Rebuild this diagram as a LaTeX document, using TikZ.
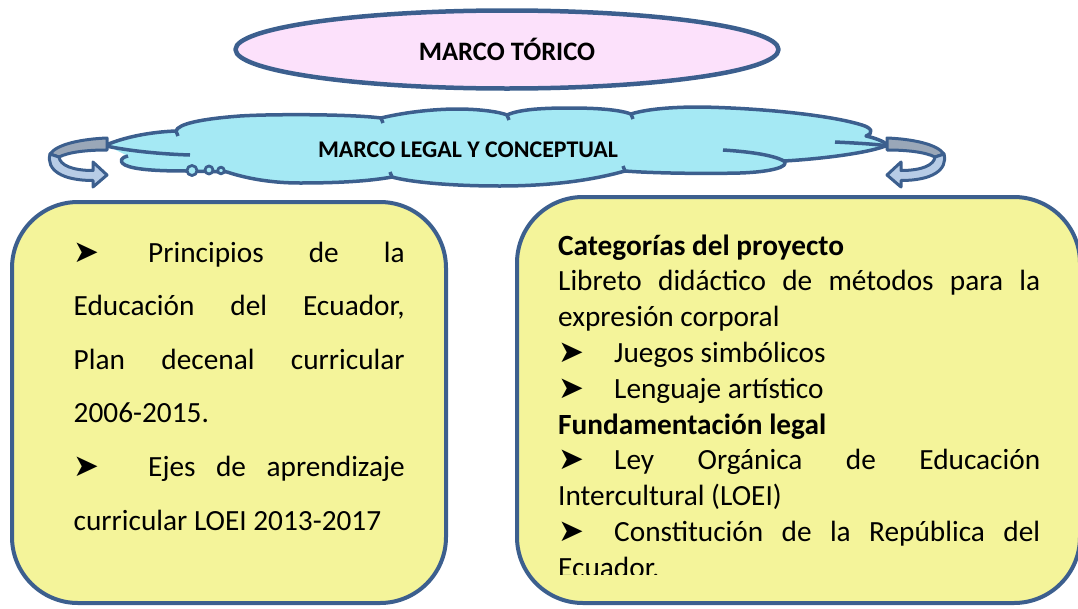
\documentclass[tikz,border=0pt]{standalone}
\usepackage{fontspec}
\setmainfont{Carlito}
\newfontfamily\dingfont{DejaVu Sans}
\usetikzlibrary{shapes.geometric}
\definecolor{rimblue}{RGB}{60,95,142}
\definecolor{pinkfill}{RGB}{252,225,251}
\definecolor{cyanfill}{RGB}{165,233,244}
\definecolor{yellowfill}{RGB}{244,244,154}
\definecolor{bandgrey}{RGB}{154,167,184}
\definecolor{bandblue}{RGB}{183,204,230}
\newcommand{\bul}{{\dingfont\fontsize{31}{31}\selectfont ➤}}
\newcommand{\plainspaces}{\spaceskip=0pt\relax\xspaceskip=0pt\relax}
\tikzset{
  rim/.style={draw=rimblue, line width=3.5pt, line join=round},
  panel/.style={rim, line width=4pt, fill=yellowfill, rounded corners=66pt, inner sep=0pt},
  body/.style={inner sep=0pt, align=left, anchor=base west},
}

\begin{document}
\begin{tikzpicture}[x=1pt, y=-1pt]
        \useasboundingbox (0,0) rectangle (1078,608);
        \clip (0,0) rectangle (1078,608);
        \node[ellipse, rim, line width=4.5pt, fill=pinkfill, minimum width=543pt, minimum height=78pt,
              font=\bfseries\fontsize{26.6}{30}\selectfont] (toric) at (507,49.5) {MARCO TÓRICO};

        \draw[rim, fill=cyanfill]
              (106,145) .. controls (125,137) and (150,132) .. (176,131)
              .. controls (178,124) and (200,119) .. (240,116)
              .. controls (270,114) and (350,114) .. (381,118)
              .. controls (410,111) and (440,109) .. (457,109)
              .. controls (480,109) and (500,112) .. (507,115)
              .. controls (520,109) and (545,108) .. (570,108)
              .. controls (600,108) and (620,110) .. (631,114)
              .. controls (650,108) and (680,107) .. (700,107)
              .. controls (760,108) and (830,115) .. (862,125)
              .. controls (872,128) and (874,133) .. (866,136)
              .. controls (875,138) and (883,141) .. (888,145)
              .. controls (870,153) and (820,159) .. (784,161)
              .. controls (790,167) and (770,172) .. (740,173)
              .. controls (700,174) and (650,173) .. (625,171)
              .. controls (600,178) and (560,186) .. (500,186)
              .. controls (450,186) and (410,182) .. (392,177)
              .. controls (370,181) and (340,183) .. (300,183)
              .. controls (270,183) and (245,178) .. (227,172)
              -- (187,171)
              .. controls (160,171) and (135,170) .. (125,165)
              .. controls (118,161) and (122,157) .. (128,156);
        \draw[rim] (106,146) .. controls (130,151) and (160,154) .. (190,155);
        \draw[rim] (723,150) .. controls (755,152) and (775,156) .. (784,161);
        \draw[rim] (835,142) .. controls (855,143) and (875,144) .. (888,146);
        \foreach \hx/\hy in {176/131, 381/118, 507/115, 631/114}
          \draw[rim] (\hx,\hy) -- ++(2,5);
        \foreach \hx/\hy in {625/171, 392/177}
          \draw[rim] (\hx,\hy) -- ++(-2,-5);
        \foreach \cx/\cy/\r in {192/170.5/5, 209/170/4, 221/170.5/3.3}
          \draw[rim, line width=2.8pt, fill=cyanfill] (\cx,\cy) circle (\r);
        \node[font=\bfseries\fontsize{23.9}{28}\selectfont] (legal) at (468,150) {MARCO LEGAL Y CONCEPTUAL};

        \coordinate (lefttip) at (107,145);
        \coordinate (righttip) at (887,145);
        \foreach \tip/\flip in {lefttip/1, righttip/-1}{
          \begin{scope}[shift={(\tip)}, xscale=\flip]
            \draw[rim, line width=3pt, fill=bandgrey] (0,-7) .. controls (-25,-6) and (-50,-1) .. (-57,9)
                  -- (-48,12) .. controls (-38,7) and (-20,5) .. (0,5) -- cycle;
            \draw[rim, line width=3pt, fill=bandblue] (-57,9) .. controls (-61,25) and (-45,35.5) .. (-14,35.5)
                  -- (-14,42) -- (0,30) -- (-14,17) -- (-14,25.5)
                  .. controls (-35,25.5) and (-47,20) .. (-48,12) -- cycle;
          \end{scope}
        }

        \node[panel, minimum width=434pt, minimum height=401pt] (basis) at (229,402.5) {};
        \node[panel, minimum width=563pt, minimum height=406pt] (categ) at (798.5,400) {};

        \node[body, text width=331pt, font=\fontsize{29.3}{53.6}\selectfont] (basistext) at (73.5,262) {%
          \plainspaces
          \makebox[74.5pt][l]{\bul}\makebox[256.5pt][s]{Principios de la}\\
          \makebox[331pt][s]{Educación del Ecuador,}\\
          \makebox[331pt][s]{Plan decenal curricular}\\
          2006-2015.\\
          \makebox[74.5pt][l]{\bul}\makebox[256.5pt][s]{Ejes de aprendizaje}\\
          curricular LOEI 2013-2017};

        \begin{scope}
          \clip (500,190) rectangle (1078,574);
          \node[body, text width=482pt, font=\fontsize{29.3}{35.8}\selectfont] (categtext) at (558,255) {%
            \plainspaces
            \textbf{Categorías del proyecto}\\
            \makebox[482pt][s]{Libreto didáctico de métodos para la}\\
            expresión corporal\\
            \makebox[56pt][l]{\bul}Juegos simbólicos\\
            \makebox[56pt][l]{\bul}Lenguaje artístico\\
            \textbf{Fundamentación legal}\\
            \makebox[56pt][l]{\bul}\makebox[426pt][s]{Ley Orgánica de Educación}\\
            Intercultural (LOEI)\\
            \makebox[56pt][l]{\bul}\makebox[426pt][s]{Constitución de la República del}\\
            Ecuador.};
        \end{scope}
\end{tikzpicture}
\end{document}
